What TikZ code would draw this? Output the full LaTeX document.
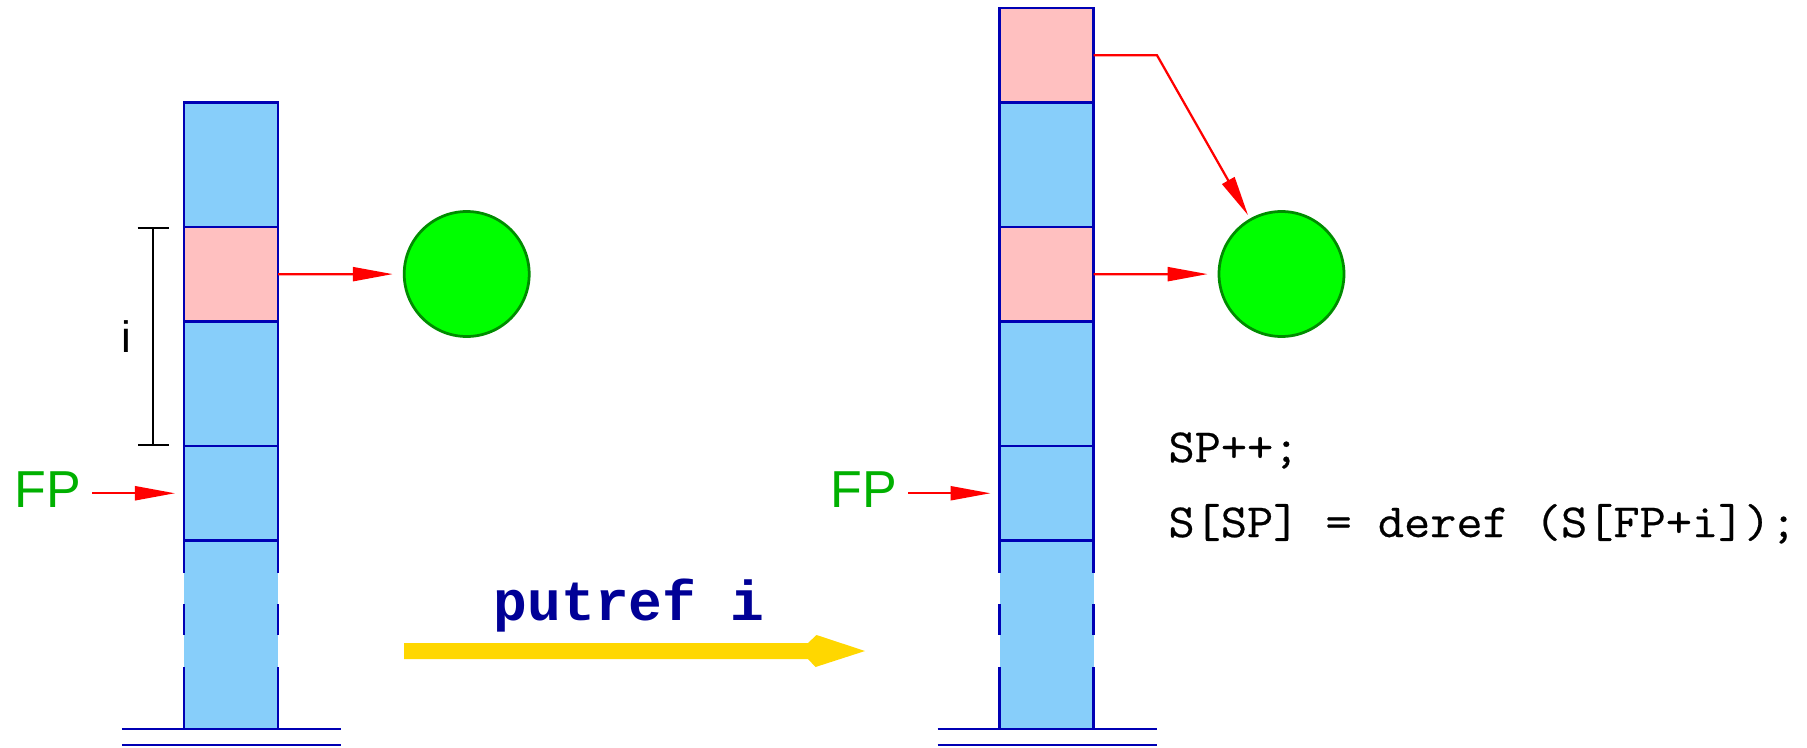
\documentclass[tikz,border=0pt]{standalone}
\usepackage{fontspec}
\usetikzlibrary{arrows.meta,calc}
\newfontfamily\sansf{Liberation Sans}
\newfontfamily\monob{Liberation Mono}
\newfontfamily\codef[FakeStretch=1.07,FakeBold=0.5]{Latin Modern Mono}
\definecolor{cellblue}{RGB}{135,206,250}
\definecolor{cellpink}{RGB}{255,192,192}
\definecolor{edgeblue}{RGB}{0,0,180}
\definecolor{ballgreen}{RGB}{0,255,0}
\definecolor{balledge}{RGB}{0,140,0}
\definecolor{fpgreen}{RGB}{0,176,0}
\definecolor{navyop}{RGB}{0,0,150}
\definecolor{gold}{RGB}{255,215,0}
\begin{document}
\begin{tikzpicture}[x=0.4pt,y=-0.4pt,
  cell/.style={draw=edgeblue, line width=1.15pt, fill=cellblue, minimum width=37.6pt, inner sep=0pt, outer sep=0pt, anchor=north},
  pinkcell/.style={cell, fill=cellpink},
  opencell/.style={fill=cellblue, minimum width=37.6pt, inner sep=0pt, outer sep=0pt, anchor=north},
  edge/.style={draw=edgeblue, line width=1.15pt},
  opendash/.style={edge, dash pattern=on 13pt off 12.4pt on 12.4pt off 12.8pt on 30pt},
  ball/.style={circle, draw=balledge, line width=1.1pt, fill=ballgreen, minimum size=50pt, inner sep=0pt},
  ptr/.style={draw=red, line width=0.9pt, -{Triangle[length=16pt,width=5.6pt]}},
  fplabel/.style={font=\sansf\fontsize{20.8pt}{24pt}\selectfont, text=fpgreen, inner sep=0pt},
  bracket/.style={line width=0.75pt, {Bar[width=12.4pt]}-{Bar[width=12.4pt]}},
  code/.style={font=\codef\fontsize{19pt}{22pt}\selectfont, inner sep=0pt, anchor=base west},
  oplabel/.style={font=\monob\bfseries\fontsize{22.5pt}{26pt}\selectfont, text=navyop, inner sep=0pt, anchor=base}
]
\useasboundingbox (0,0) rectangle (1807,747);

% ---------- left stack ----------
\node[cell, minimum height=49.8pt] (L1) at (231,102.5) {};
\node[pinkcell, minimum height=37.8pt] (L2) at (231,227) {};
\node[cell, minimum height=49.8pt] (L3) at (231,321.5) {};
\node[cell, minimum height=37.8pt] (L4) at (231,446) {};
\node[opencell, minimum height=75.4pt] (L5) at (231,540.5) {};
\draw[edge] (L5.north west) -- (L5.north east);
\draw[opendash] (L5.north west) -- (L5.south west);
\draw[opendash] (L5.north east) -- (L5.south east);
\draw[edge] ([xshift=-24.8pt]L5.south west) -- ([xshift=25.2pt]L5.south east);
\draw[edge] ([xshift=-24.8pt,yshift=-6.4pt]L5.south west) -- ([xshift=25.2pt,yshift=-6.4pt]L5.south east);

\node[ball] (C1) at (466.7,274) {};
\draw[ptr, shorten >=4pt] (L2.east) -- (C1);

\draw[bracket] ([xshift=-12.4pt]L2.north west) -- ([xshift=-12.4pt]L4.north west);
\node[font=\sansf\fontsize{17.6pt}{20pt}\selectfont, inner sep=0pt] (ilab) at (126,337) {i};

\node[fplabel] (FPL) at (47.5,490) {FP};
\draw[ptr, shorten <=4.4pt, shorten >=3.6pt] (FPL.east |- L4) -- (L4.west);

% ---------- transition arrow ----------
\node[oplabel] (op) at (629,620) {putref i};
\coordinate (ya) at (404,651);
\coordinate (yb) at (865,651);
\fill[gold] ($(ya)+(0,-8)$) -- (808,643) -- (816.5,635) -- (yb) -- (815.5,667) -- (808,659) -- ($(ya)+(0,8)$) -- cycle;

% ---------- right stack ----------
\node[pinkcell, minimum height=37.8pt] (R0) at (1046.5,8) {};
\node[cell, minimum height=49.8pt] (R1) at (1046.5,102.5) {};
\node[pinkcell, minimum height=37.8pt] (R2) at (1046.5,227) {};
\node[cell, minimum height=49.8pt] (R3) at (1046.5,321.5) {};
\node[cell, minimum height=37.8pt] (R4) at (1046.5,446) {};
\node[opencell, minimum height=75.4pt] (R5) at (1046.5,540.5) {};
\draw[edge] (R5.north west) -- (R5.north east);
\draw[opendash] (R5.north west) -- (R5.south west);
\draw[opendash] (R5.north east) -- (R5.south east);
\draw[edge] ([xshift=-24.8pt]R5.south west) -- ([xshift=25.2pt]R5.south east);
\draw[edge] ([xshift=-24.8pt,yshift=-6.4pt]R5.south west) -- ([xshift=25.2pt,yshift=-6.4pt]R5.south east);

\node[ball] (C2) at (1281.5,274) {};
\draw[ptr, shorten >=4pt] (R2.east) -- (C2);
\coordinate (bend) at (1157,55.25);
\draw[ptr, shorten >=1.5pt] (R0.east) -- (bend) -- (C2);

\node[fplabel] (FPR) at (863.5,490) {FP};
\draw[ptr, shorten <=4.4pt, shorten >=3.6pt] (FPR.east |- R4) -- (R4.west);

% ---------- code ----------
\node[code] (c1) at (1168,462) {SP++;};
\node[code] (c2) at (1168,537) {S[SP] = deref (S[FP+i]);};
\end{tikzpicture}
\end{document}
